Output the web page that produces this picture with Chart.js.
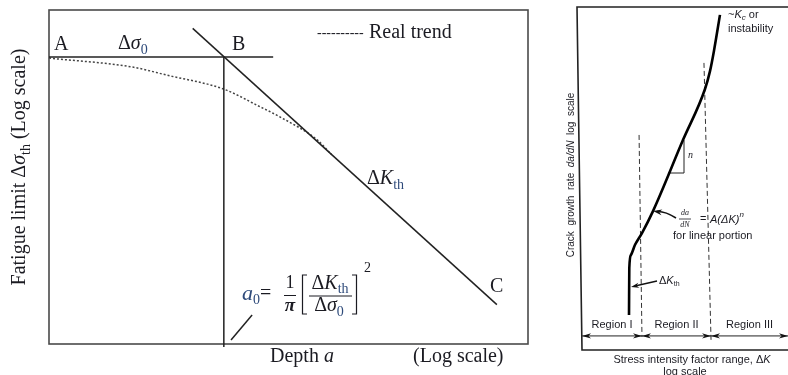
<!DOCTYPE html>
<html><head><meta charset="utf-8">
<script src="https://cdn.jsdelivr.net/npm/chart.js@4.4.1/dist/chart.umd.min.js"></script>
<style>
html,body{margin:0;padding:0;background:#fff;width:788px;height:375px;overflow:hidden}
canvas{position:absolute;top:0}
#c1{left:0}
#c2{left:540px}
</style></head><body>
<canvas id="c1" width="540" height="375"></canvas>
<canvas id="c2" width="248" height="375"></canvas>
<script>
// ---- Left panel: fatigue limit vs crack depth (log-log, schematic units) ----
const depthAB   = [0, 4.68];
const limitAB   = [8.59, 8.59];
const depthB    = [3.65, 3.65];
const limitB    = [8.59, -0.09];
const depthKth  = [3.0, 9.35];
const limitKth  = [9.45, 1.18];
const depthReal = [0, 1.75, 2.46, 3.65, 4.41, 4.82, 5.60, 5.90];
const limitReal = [8.56, 8.29, 8.05, 7.63, 7.10, 6.80, 6.11, 5.67];
const depthA0   = [3.80, 4.24];
const limitA0   = [0.12, 0.87];

// ---- Right panel: crack growth rate vs stress intensity factor range ----
const logDeltaK = [2.356, 2.37, 2.45, 2.64, 2.98, 3.51, 4.95, 6.01, 6.25, 6.44, 6.73];
const logRate   = [1.02, 2.39, 2.77, 3.06, 3.41, 4.05, 6.12, 7.61, 8.13, 8.72, 9.77];
const slopeDK   = [4.23, 5.0, 5.0];
const slopeRate = [5.16, 5.16, 6.12];
const bound1DK  = [2.84, 2.98];
const bound1Rate= [6.27, 0.38];
const bound2DK  = [5.96, 6.30];
const bound2Rate= [8.37, 0.29];
const regionEdges  = [0.1, 2.98, 6.30, 10];
const regionLabels = ['Region I', 'Region II', 'Region III'];
const regionArrowRate = 0.41;

const zip = (xs, ys) => xs.map((x, i) => ({x, y: ys[i]}));

const SERIF = "'Liberation Serif','Times New Roman',serif";
const SANS = "'Liberation Sans',Arial,sans-serif";
const INK = '#1b1b22';
const SUB = '#2e4a7a';

function runs(ctx, parts, x, y, align) {
  let w = 0;
  parts.forEach(p => { ctx.font = p[1]; w += ctx.measureText(p[0]).width; });
  let cx = align === 'center' ? x - w / 2 : (align === 'right' ? x - w : x);
  ctx.textBaseline = 'middle'; ctx.textAlign = 'left';
  parts.forEach(p => {
    ctx.font = p[1]; ctx.fillStyle = p[3] || INK;
    ctx.fillText(p[0], cx, y + (p[2] || 0));
    cx += ctx.measureText(p[0]).width;
  });
  return w;
}
function line(ctx, pts, w, c) {
  ctx.beginPath(); ctx.moveTo(pts[0][0], pts[0][1]);
  for (let i = 1; i < pts.length; i++) ctx.lineTo(pts[i][0], pts[i][1]);
  ctx.lineWidth = w; ctx.strokeStyle = c || INK; ctx.stroke();
}
function head(ctx, x, y, ang, len, hw) {
  ctx.save(); ctx.translate(x, y); ctx.rotate(ang);
  ctx.beginPath(); ctx.moveTo(0, 0); ctx.lineTo(-len, -hw); ctx.lineTo(-len * 0.7, 0); ctx.lineTo(-len, hw); ctx.closePath();
  ctx.fillStyle = '#111'; ctx.fill(); ctx.restore();
}

const baseOpts = (pad) => ({
  responsive: false, animation: false, devicePixelRatio: 1,
  layout: {padding: pad},
  scales: {
    x: {type: 'linear', min: 0, max: 10, display: false},
    y: {type: 'linear', min: 0, max: 10, display: false}
  },
  plugins: {legend: {display: false}, tooltip: {enabled: false}},
  elements: {point: {radius: 0}, line: {fill: false}}
});

const leftPlugin = {
  id: 'leftDecor',
  beforeDatasetsDraw(chart) {
    const {ctx, chartArea: a} = chart;
    ctx.save();
    ctx.strokeStyle = '#4a4a4a'; ctx.lineWidth = 1.6;
    ctx.strokeRect(a.left, a.top, a.right - a.left, a.bottom - a.top);
    ctx.restore();
  },
  afterDraw(chart) {
    const ctx = chart.ctx;
    ctx.save();
    const R20 = '20px ' + SERIF, I20 = 'italic 20px ' + SERIF, S14 = '14px ' + SERIF;
    runs(ctx, [['A', R20]], 54, 45, 'left');
    runs(ctx, [['\u0394', R20], ['\u03c3', I20], ['0', S14, 6, SUB]], 118, 44, 'left');
    runs(ctx, [['B', R20]], 232, 45, 'left');
    runs(ctx, [['----------', '14px ' + SERIF]], 317, 33, 'left');
    runs(ctx, [['Real trend', R20]], 369, 33, 'left');
    runs(ctx, [['\u0394', R20], ['K', I20], ['th', S14, 6, SUB]], 367, 179, 'left');
    runs(ctx, [['C', R20]], 490, 287, 'left');
    // formula a0 = 1/pi [dKth/dsigma0]^2
    runs(ctx, [['a', 'italic 22px ' + SERIF, 0, SUB], ['0', S14, 6, SUB], ['=', R20]], 242, 294, 'left');
    runs(ctx, [['1', '18px ' + SERIF]], 290, 283, 'center');
    line(ctx, [[284, 295.5], [296, 295.5]], 1);
    runs(ctx, [['\u03c0', 'italic bold 19px ' + SERIF]], 290, 306, 'center');
    line(ctx, [[307, 275], [302.5, 275], [302.5, 314], [307, 314]], 1.2);
    line(ctx, [[352, 275], [356.5, 275], [356.5, 314], [352, 314]], 1.2);
    runs(ctx, [['\u0394', R20], ['K', I20], ['th', S14, 5, SUB]], 330, 284, 'center');
    line(ctx, [[309, 296], [352, 296]], 1);
    runs(ctx, [['\u0394', R20], ['\u03c3', I20], ['0', S14, 6, SUB]], 329, 306, 'center');
    runs(ctx, [['2', S14]], 364, 268, 'left');
    // x axis title
    runs(ctx, [['Depth ', R20], ['a', I20]], 270, 357, 'left');
    runs(ctx, [['(Log scale)', R20]], 413, 357, 'left');
    // y axis title
    ctx.translate(20, 167); ctx.rotate(-Math.PI / 2);
    runs(ctx, [['Fatigue limit \u0394', R20], ['\u03c3', I20], ['th', S14, 6], [' (Log scale)', R20]], 0, 0, 'center');
    ctx.restore();
  }
};

new Chart(document.getElementById('c1'), {
  type: 'scatter',
  data: {datasets: [
    {data: zip(depthAB, limitAB), showLine: true, borderColor: '#222', borderWidth: 1.5, clip: false},
    {data: zip(depthB, limitB), showLine: true, borderColor: '#222', borderWidth: 1.5, clip: false},
    {data: zip(depthKth, limitKth), showLine: true, borderColor: '#222', borderWidth: 1.5, clip: false},
    {data: zip(depthReal, limitReal), showLine: true, borderColor: '#444', borderWidth: 1.5, borderDash: [2, 2], cubicInterpolationMode: 'monotone', clip: false},
    {data: zip(depthA0, limitA0), showLine: true, borderColor: '#222', borderWidth: 1.5, clip: false}
  ]},
  options: baseOpts({left: 49, top: 10, right: 12, bottom: 31}),
  plugins: [leftPlugin]
});

const rightPlugin = {
  id: 'rightDecor',
  beforeDatasetsDraw(chart) {
    const {ctx, chartArea: a} = chart;
    ctx.save();
    line(ctx, [[a.right, a.top], [a.left - 3, a.top], [a.left + 2, a.bottom], [a.right, a.bottom]], 1.6, '#222');
    ctx.restore();
  },
  afterDraw(chart) {
    const {ctx, scales: {x, y}} = chart;
    ctx.save();
    const S11 = '11px ' + SANS, I11 = 'italic 11px ' + SANS;
    // region arrows
    const ay = y.getPixelForValue(regionArrowRate);
    for (let i = 0; i < regionLabels.length; i++) {
      const x1 = x.getPixelForValue(regionEdges[i]), x2 = x.getPixelForValue(regionEdges[i + 1]);
      line(ctx, [[x1, ay], [x2, ay]], 1, '#222');
      head(ctx, x1, ay, Math.PI, 9, 2.6);
      head(ctx, x2, ay, 0, 9, 2.6);
      runs(ctx, [[regionLabels[i], S11]], (x1 + x2) / 2, ay - 11, 'center');
    }
    // annotations
    runs(ctx, [['~', S11], ['K', I11], ['c', 'italic 8px ' + SANS, 3], [' or', S11]], 188, 15, 'left');
    runs(ctx, [['instability', S11]], 188, 29, 'left');
    runs(ctx, [['n', 'italic 10px ' + SERIF]], 148, 155, 'left');
    runs(ctx, [['da', 'italic 8px ' + SERIF]], 145, 213, 'center');
    line(ctx, [[139, 219], [151, 219]], 0.8);
    runs(ctx, [['dN', 'italic 8px ' + SERIF]], 145, 225, 'center');
    runs(ctx, [['=', S11]], 160, 219, 'left');
    runs(ctx, [['A(\u0394K)', I11], ['n', 'italic 8px ' + SANS, -5]], 170, 220, 'left');
    runs(ctx, [['for linear portion', S11]], 133, 236, 'left');
    // arrow to linear portion
    ctx.beginPath(); ctx.moveTo(136, 218); ctx.quadraticCurveTo(125, 211, 117, 211.5);
    ctx.lineWidth = 1.6; ctx.strokeStyle = '#111'; ctx.stroke();
    head(ctx, 113, 211, Math.PI + 0.15, 9, 3);
    // delta K threshold
    runs(ctx, [['\u0394', S11], ['K', I11], ['th', '7px ' + SANS, 3]], 119, 281, 'left');
    line(ctx, [[117, 281], [95, 286]], 1.3, '#111');
    head(ctx, 91, 287, Math.PI - 0.22, 8, 2.6);
    // axis titles
    runs(ctx, [['Stress intensity factor range, \u0394', S11], ['K', I11]], 152, 360, 'center');
    runs(ctx, [['log scale', S11]], 145, 372, 'center');
    ctx.translate(31, 175); ctx.rotate(-Math.PI / 2);
    runs(ctx, [['Crack  growth  rate  ', '10px ' + SANS], ['da/dN', 'italic 10px ' + SANS], ['  log  scale', '10px ' + SANS]], 0, 0, 'center');
    ctx.restore();
  }
};

new Chart(document.getElementById('c2'), {
  type: 'scatter',
  data: {datasets: [
    {data: zip(logDeltaK, logRate), showLine: true, borderColor: '#000', borderWidth: 2.6, cubicInterpolationMode: 'monotone', clip: false},
    {data: zip(slopeDK, slopeRate), showLine: true, borderColor: '#222', borderWidth: 1, clip: false},
    {data: zip(bound1DK, bound1Rate), showLine: true, borderColor: '#333', borderWidth: 1, borderDash: [5, 3], clip: false},
    {data: zip(bound2DK, bound2Rate), showLine: true, borderColor: '#333', borderWidth: 1, borderDash: [5, 3], clip: false}
  ]},
  options: baseOpts({left: 40, top: 7, right: 0, bottom: 25}),
  plugins: [rightPlugin]
});
</script>
</body></html>
